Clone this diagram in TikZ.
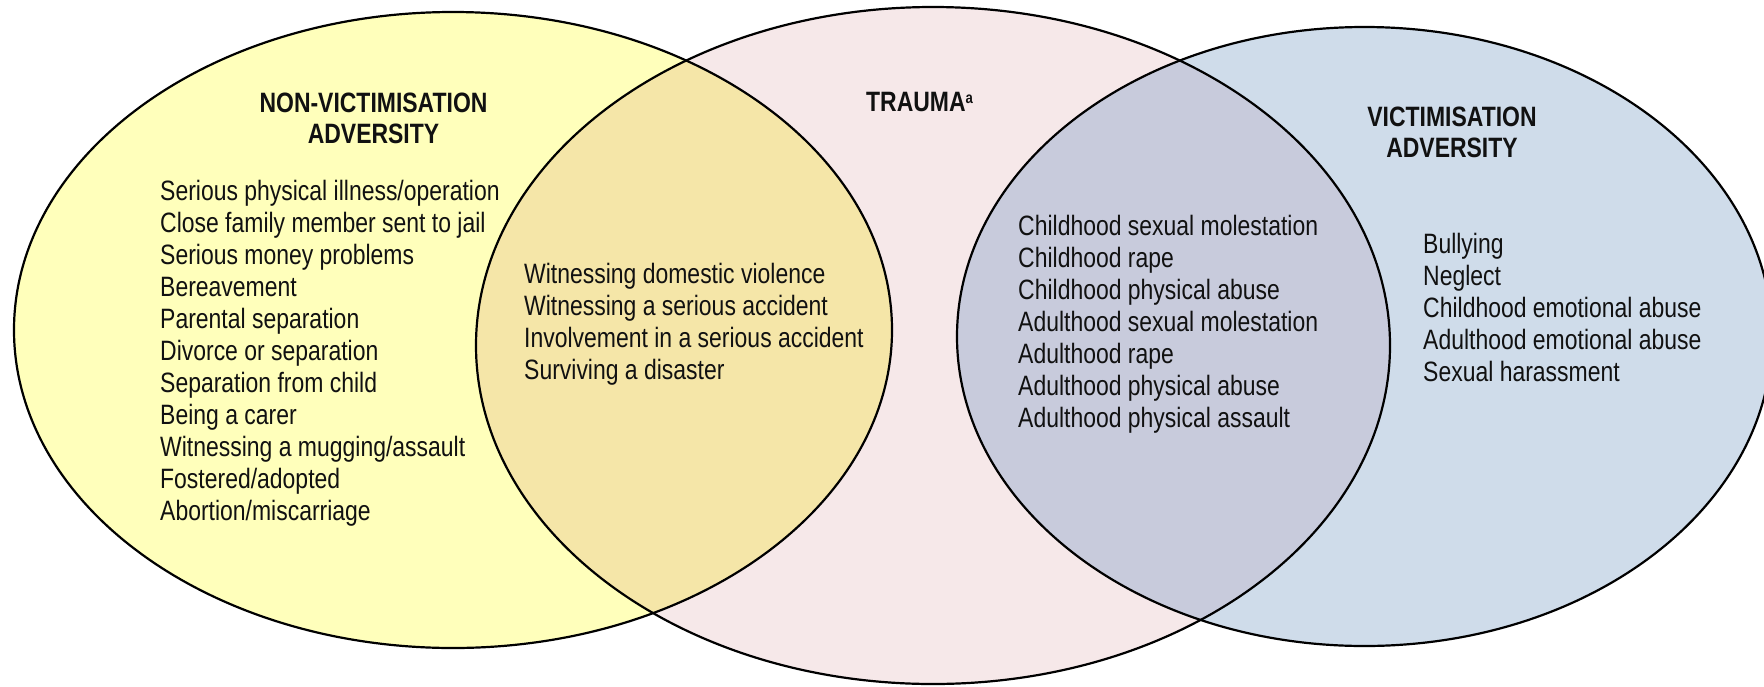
\documentclass[tikz,border=0pt]{standalone}
\usepackage{fontspec}
\setmainfont{Liberation Sans}[FakeStretch=0.82]
\definecolor{cyel}{HTML}{FFFFBB}
\definecolor{cpink}{HTML}{F6E8E9}
\definecolor{cblue}{HTML}{CFDCEA}
\definecolor{cyp}{HTML}{F5E6A8}
\definecolor{cpb}{HTML}{C8CBDC}
\definecolor{ctext}{HTML}{111111}
\tikzset{
  item/.style={inner sep=0pt, anchor=base west, text=ctext, font=\fontsize{28}{32}\selectfont},
  head/.style={inner sep=0pt, anchor=base, text=ctext, font=\fontsize{28}{32}\selectfont\bfseries},
  outline/.style={draw=black, line width=2.2pt}
}
\begin{document}
\begin{tikzpicture}[x=1pt,y=-1pt]
\useasboundingbox (0,0) rectangle (1764,686);
% fills
\fill[cyel] (453,330) ellipse [x radius=439, y radius=318];
\fill[cpink] (933,345.5) ellipse [x radius=457, y radius=338.5];
\fill[cblue] (1364.5,336.5) ellipse [x radius=407.5, y radius=309.5];
\begin{scope}
  \clip (453,330) ellipse [x radius=439, y radius=318];
  \fill[cyp] (933,345.5) ellipse [x radius=457, y radius=338.5];
\end{scope}
\begin{scope}
  \clip (933,345.5) ellipse [x radius=457, y radius=338.5];
  \fill[cpb] (1364.5,336.5) ellipse [x radius=407.5, y radius=309.5];
\end{scope}
% outlines
\draw[outline] (453,330) ellipse [x radius=439, y radius=318];
\draw[outline] (933,345.5) ellipse [x radius=457, y radius=338.5];
\draw[outline] (1364.5,336.5) ellipse [x radius=407.5, y radius=309.5];
% headings
\node[head] (h1a) at (373.5,112) {NON-VICTIMISATION};
\node[head] (h1b) at (373.5,143) {ADVERSITY};
\node[head, anchor=base west] (h2) at (866,111) {TRAUMA\raisebox{8pt}{\fontsize{16}{16}\selectfont a}};
\node[head] (h3a) at (1452,126) {VICTIMISATION};
\node[head] (h3b) at (1452,157) {ADVERSITY};
% lists
\foreach \t [count=\i from 0] in {Serious physical illness/operation, Close family member sent to jail, Serious money problems, Bereavement, Parental separation, Divorce or separation, Separation from child, Being a carer, Witnessing a mugging/assault, Fostered/adopted, Abortion/miscarriage}
  \node[item] (nv\i) at (160,200+32*\i) {\t};
\foreach \t [count=\i from 0] in {Witnessing domestic violence, Witnessing a serious accident, Involvement in a serious accident, Surviving a disaster}
  \node[item] (tn\i) at (524,283+32*\i) {\t};
\foreach \t [count=\i from 0] in {Childhood sexual molestation, Childhood rape, Childhood physical abuse, Adulthood sexual molestation, Adulthood rape, Adulthood physical abuse, Adulthood physical assault}
  \node[item] (tv\i) at (1018,235+32*\i) {\t};
\foreach \t [count=\i from 0] in {Bullying, Neglect, Childhood emotional abuse, Adulthood emotional abuse, Sexual harassment}
  \node[item] (va\i) at (1423,253+32*\i) {\t};
\end{tikzpicture}
\end{document}
